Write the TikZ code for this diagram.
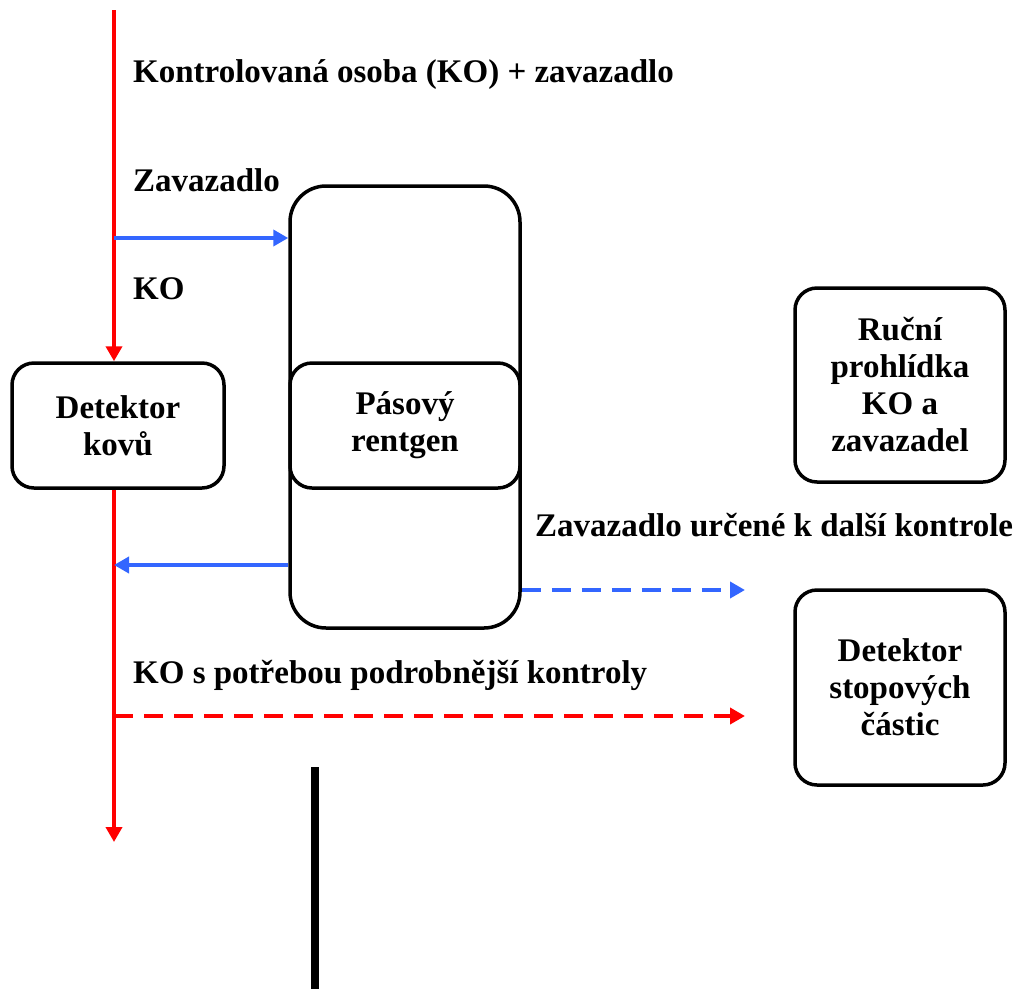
\documentclass[tikz,border=0pt]{standalone}
\usepackage{fontspec}
\setmainfont{Liberation Serif}
\usetikzlibrary{arrows.meta,positioning}
\begin{document}
\begin{tikzpicture}[x=1pt,y=-1pt,
  box/.style={draw=black,line width=3.5pt,rounded corners=22pt,align=center,font=\bfseries\fontsize{33}{37}\selectfont},
  lbl/.style={anchor=base west,inner sep=0pt,font=\bfseries\fontsize{33}{37}\selectfont},
  redflow/.style={draw={rgb,255:red,255;green,0;blue,0},line width=4.5pt,-{Triangle[length=15pt,width=16pt]}},
  blueflow/.style={draw={rgb,255:red,51;green,102;blue,255},line width=4.5pt,-{Triangle[length=15pt,width=16pt]}},
  dashflow/.style={dash pattern=on 19pt off 11pt}
]
\useasboundingbox (0,0) rectangle (1021,989);

% boxes
\node[box,minimum width=230pt,minimum height=442pt,rounded corners=36pt] (xray) at (405,407) {};
\node[box,minimum width=212pt,minimum height=125pt] (det) at (118,425.5) {Detektor\\kovů};
\node[box,minimum width=230pt,minimum height=125pt] (belt) at (405,425.5) {Pásový\\rentgen};
\node[box,minimum width=210pt,minimum height=194pt] (hand) at (900,385) {Ruční\\prohlídka\\KO a\\zavazadel};
\node[box,minimum width=210pt,minimum height=195pt] (trace) at (900,687.5) {Detektor\\stopových\\částic};

% flow coordinates
\coordinate (start) at (114,10);
\coordinate (split) at (114,238);
\coordinate (ret) at (114,565);
\coordinate (fork) at (114,716);
\coordinate (endko) at (114,842);
\coordinate (bagout) at (745,590);
\coordinate (koout) at (745,716);
\coordinate (barTop) at (315,767);
\coordinate (barBot) at (315,989);

% main passenger flow
\draw[redflow] (start) -- (det.north -| start);
\draw[redflow] (det.south -| start) -- (endko);
\draw[redflow,dashflow] (fork) -- (koout);

% luggage flow
\draw[blueflow] (split) -- (split -| xray.west);
\draw[blueflow] (ret -| xray.west) -- (ret);
\draw[blueflow,dashflow] (bagout -| xray.east) -- (bagout);

% separator
\draw[line width=8pt] (barTop) -- (barBot);

% labels
\node[lbl] (l1) at (133,82) {Kontrolovaná osoba (KO) + zavazadlo};
\node[lbl] (l2) at (133,191) {Zavazadlo};
\node[lbl] (l3) at (133,299) {KO};
\node[lbl] (l4) at (535,536) {Zavazadlo určené k další kontrole};
\node[lbl] (l5) at (133,683) {KO s potřebou podrobnější kontroly};
\end{tikzpicture}
\end{document}
